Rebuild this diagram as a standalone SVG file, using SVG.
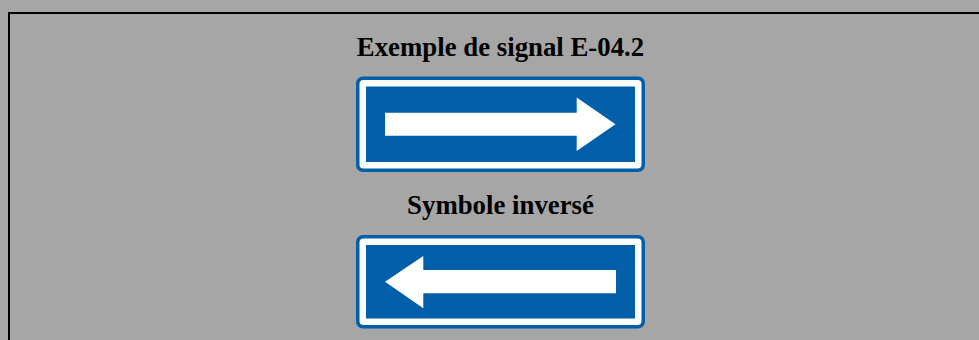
<svg xmlns="http://www.w3.org/2000/svg" width="979" height="340" viewBox="0 0 979 340">
<style>
.title{font-family:"Liberation Serif","Times New Roman",serif;font-weight:bold;font-size:26.8px;fill:#000;text-anchor:middle}
.outer{fill:#005FA8}
.white{fill:#fff}
.inner{fill:#005FA8}
.arrow{fill:#fff}
</style>
<rect x="0" y="0" width="979" height="340" fill="#a6a6a6"/>
<rect x="9" y="13" width="980" height="340" fill="none" stroke="#000" stroke-width="2"/>
<g id="title1"><text class="title" x="500.5" y="55.5">Exemple de signal E-04.2</text></g>
<g id="sign1">
<rect class="outer" x="356" y="76.5" width="289" height="95.5" rx="7"/>
<rect class="white" x="359.5" y="80" width="282" height="88.5" rx="4"/>
<rect class="inner" x="366" y="86.5" width="269" height="75.5"/>
<polygon class="arrow" points="385,112.7 576.7,112.7 576.7,97.5 615.5,124.2 576.7,151 576.7,135.7 385,135.7"/>
</g>
<g id="title2"><text class="title" x="500.5" y="213.5">Symbole inversé</text></g>
<g id="sign2">
<rect class="outer" x="356" y="235" width="289" height="93.5" rx="7"/>
<rect class="white" x="359.5" y="238.5" width="282" height="86.5" rx="4"/>
<rect class="inner" x="366" y="245" width="269" height="73.5"/>
<polygon class="arrow" points="616,270 423.3,270 423.3,256 385,281.7 423.3,308.3 423.3,293.3 616,293.3"/>
</g>
</svg>
